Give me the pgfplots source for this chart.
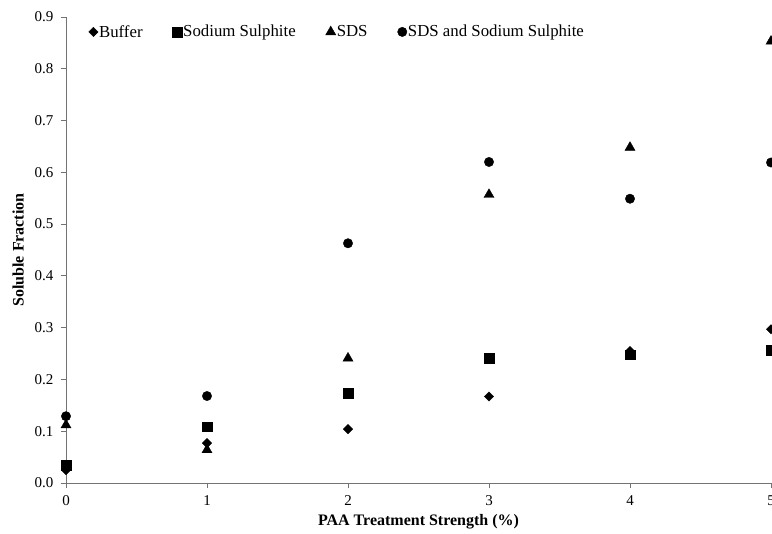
\documentclass[border=0pt]{standalone}
\usepackage{fontspec}
\setmainfont{Liberation Serif}
\usepackage{pgfplots}
\pgfplotsset{compat=1.18}
\usetikzlibrary{calc}

\begin{document}
\begin{tikzpicture}
\begin{axis}[
    scale only axis, width=705pt, height=466pt,
    xmin=0, xmax=5, ymin=0, ymax=0.9,
    axis x line*=bottom, axis y line*=left,
    axis line style={black!55, line width=0.8pt},
    tick style={black!55, line width=0.8pt},
    tick align=outside, major tick length=5pt,
    xtick={0,1,2,3,4,5},
    ytick={0,0.1,0.2,0.3,0.4,0.5,0.6,0.7,0.8,0.9},
    tick label style={font=\fontsize{15}{17}\selectfont},
    x tick label style={yshift=-4pt, /pgf/number format/assume math mode=true},
    y tick label style={xshift=-4pt, /pgf/number format/.cd, fixed, fixed zerofill, precision=1, assume math mode=true},
    xlabel={\textbf{PAA Treatment Strength (\%)}},
    ylabel={\textbf{Soluble Fraction}},
    label style={font=\fontsize{16}{18}\selectfont},
    xlabel style={at={(axis description cs:0.5,-0.084)}, anchor=center},
    ylabel style={at={(axis description cs:-0.068,0.5)}, anchor=center},
    clip=false,
    legend columns=4,
    legend style={at={(axis description cs:0.032,0.968)}, anchor=west, draw=none, fill=none,
        font=\fontsize{16.8}{18}\selectfont, inner sep=0pt,
        nodes={inner sep=1pt},
        /tikz/every odd column/.append style={column sep=0pt},
        /tikz/every even column/.append style={column sep=29pt}},
    legend image code/.code={\draw[#1] plot coordinates {(0pt,0pt)};},
]
% Buffer
\addplot[only marks, mark=square*, mark size=3.3pt, mark options={rotate=45}, black]
  coordinates {(0,0.025) (1,0.077) (2,0.104) (3,0.167) (4,0.255) (5,0.297)};
% Sodium Sulphite
\addplot[only marks, mark=square*, mark size=4.8pt, black]
  coordinates {(0,0.034) (1,0.109) (2,0.173) (3,0.241) (4,0.248) (5,0.256)};
% SDS
\addplot[only marks, mark=triangle*, mark size=5.8pt, black]
  coordinates {(0,0.112) (1,0.064) (2,0.241) (3,0.557) (4,0.648) (5,0.853)};
% SDS and Sodium Sulphite
\addplot[only marks, mark=*, mark size=4.7pt, black]
  coordinates {(0,0.129) (1,0.168) (2,0.463) (3,0.620) (4,0.549) (5,0.619)};
\legend{Buffer, Sodium Sulphite, SDS, SDS and Sodium Sulphite}
\end{axis}
\pgfresetboundingbox
\useasboundingbox ($(current axis.south west)+(-66pt,-50pt)$) rectangle ($(current axis.north east)+(1pt,17pt)$);
\end{tikzpicture}
\end{document}
